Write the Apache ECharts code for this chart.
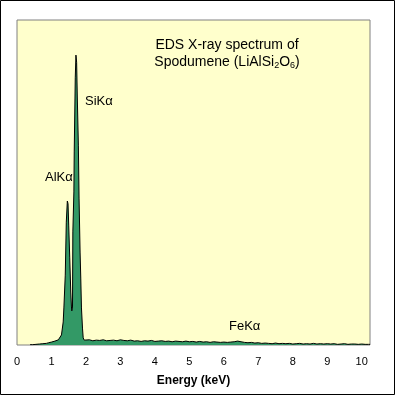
<!DOCTYPE html>
<html><head><meta charset="utf-8">
<script src="https://cdn.jsdelivr.net/npm/echarts@6/dist/echarts.min.js"></script>
<style>html,body{margin:0;padding:0;background:#fff}#c{width:396px;height:396px}</style>
</head><body><div id="c"></div>
<script>
// Energy (keV) of each sampled channel
const energies = [0.38,0.45,0.55,0.65,0.70,0.75,0.85,0.92,1.00,1.05,1.10,1.15,1.20,1.24,1.29,1.34,1.36,1.40,1.43,1.46,1.47,1.48,1.50,1.53,1.56,1.58,1.59,1.61,1.62,1.65,1.66,1.69,1.71,1.72,1.73,1.75,1.78,1.80,1.83,1.85,1.87,1.90,1.92,1.95,
  2.0,2.1,2.2,2.3,2.4,2.5,2.6,2.7,2.8,2.9,3.0,3.1,3.2,3.3,3.4,3.5,3.6,3.7,3.8,3.9,4.0,4.1,4.2,4.3,4.4,4.5,4.6,4.7,4.8,4.9,5.0,5.1,5.2,5.3,5.4,5.5,5.6,5.7,5.8,5.9,6.0,6.1,6.2,6.3,6.4,6.5,6.6,6.7,6.8,6.9,7.0,7.1,7.2,7.3,7.4,7.5,7.6,7.7,7.8,7.9,8.0,8.1,8.2,8.3,8.4,8.5,8.6,8.7,8.8,8.9,9.0,9.1,9.2,9.3,9.4,9.5,9.6,9.7,9.8,9.9,10.0,10.1,10.2,10.24];
// Counts (relative, full scale 1000)
const counts = [1,1,2,3,3,4,5,7,9,11,12,13,16,22,31,71,114,215,378,443,446,435,369,268,163,117,105,117,348,471,594,822,892,892,870,760,615,452,286,206,114,52,22,15,
  14,16,13,15,14,16,13,14,15,13,16,14,13,15,12,13,11,13,12,14,11,12,13,11,12,10,12,11,10,12,10,11,9,11,9,10,8,10,9,8,9,8,9,10,12,10,8,7,8,6,7,5,6,5,4,6,4,5,4,5,3,4,5,3,4,3,5,3,4,3,4,3,4,2,3,4,2,3,3,2,3,2,2,2];
const xTicks = [0,1,2,3,4,5,6,7,8,9,10];
const peakLabels = ['SiKα','AlKα','FeKα'];
const titleLines = ['EDS X-ray spectrum of', 'Spodumene (LiAlSi', '2', 'O', '6', ')'];

const data = energies.map((e,i)=>[e,counts[i]]);
const chart = echarts.init(document.getElementById('c'));
const FONT = 'Liberation Sans, Arial, sans-serif';
chart.setOption({
  animation:false,
  backgroundColor:'#ffffff',
  grid:{left:17,top:20,width:353,height:325,show:true,backgroundColor:'#FFFFCC',borderColor:'#808080',borderWidth:1},
  xAxis:{type:'value',min:0,max:10.24,interval:1,
    name:'Energy (keV)',nameLocation:'middle',nameGap:30,
    nameTextStyle:{fontFamily:FONT,fontSize:12,fontWeight:'bold',color:'#000'},
    axisLine:{show:false},axisTick:{show:false},splitLine:{show:false},
    axisLabel:{showMaxLabel:false,fontFamily:FONT,fontSize:11,color:'#000',margin:11,
      formatter:v=>xTicks.includes(v)?String(v):''}},
  yAxis:{type:'value',min:0,max:1000,show:false,splitLine:{show:false}},
  series:[{type:'line',data:data,symbol:'none',lineStyle:{color:'#000',width:1},
    areaStyle:{color:'#339966',opacity:1},z:2}],
  graphic:[
    {type:'rect',shape:{x:0.5,y:0.5,width:394,height:394},style:{fill:'none',stroke:'#000',lineWidth:1},z:100},
    {type:'text',x:227,y:45,style:{text:titleLines[0],font:'14px '+FONT,fill:'#000',align:'center',verticalAlign:'middle'},z:100},
    {type:'text',x:227,y:62,style:{
      text:'{n|'+titleLines[1]+'}{s|'+titleLines[2]+'}{n|'+titleLines[3]+'}{s|'+titleLines[4]+'}{n|'+titleLines[5]+'}',
      align:'center',verticalAlign:'middle',
      rich:{n:{fontFamily:FONT,fontSize:14,lineHeight:16,fill:'#000'},
            s:{fontFamily:FONT,fontSize:9,lineHeight:9,verticalAlign:'bottom',fill:'#000'}}},z:100},
    {type:'text',x:85,y:101,style:{text:peakLabels[0],font:'13px '+FONT,fill:'#000',align:'left',verticalAlign:'middle'},z:100},
    {type:'text',x:45,y:177,style:{text:peakLabels[1],font:'13px '+FONT,fill:'#000',align:'left',verticalAlign:'middle'},z:100},
    {type:'text',x:229,y:326,style:{text:peakLabels[2],font:'13px '+FONT,fill:'#000',align:'left',verticalAlign:'middle'},z:100}
  ]
});
</script></body></html>
